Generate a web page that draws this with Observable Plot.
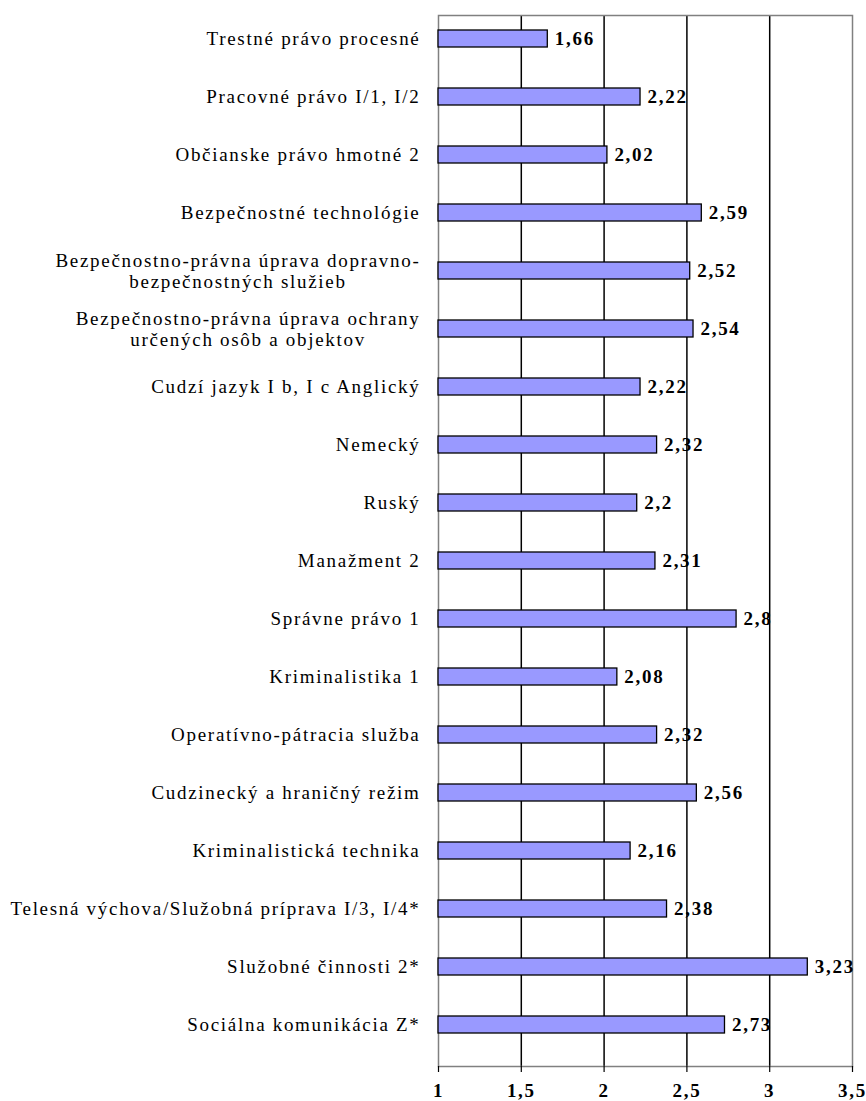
<!DOCTYPE html>
<html>
<head>
<meta charset="utf-8">
<script src="https://cdn.jsdelivr.net/npm/d3@7"></script>
<script src="https://cdn.jsdelivr.net/npm/@observablehq/plot@0.6"></script>
<style>
  html, body { margin: 0; padding: 0; background: #fff; }
  svg text { letter-spacing: 1.7px; }
</style>
</head>
<body>
<div id="chart"></div>
<script>
const categories = [
  "Trestné právo procesné",
  "Pracovné právo I/1, I/2",
  "Občianske právo hmotné 2",
  "Bezpečnostné technológie",
  "Bezpečnostno-právna úprava dopravno-\nbezpečnostných služieb",
  "Bezpečnostno-právna úprava ochrany\nurčených osôb a objektov",
  "Cudzí jazyk I b, I c Anglický",
  "Nemecký",
  "Ruský",
  "Manažment 2",
  "Správne právo 1",
  "Kriminalistika 1",
  "Operatívno-pátracia služba",
  "Cudzinecký a hraničný režim",
  "Kriminalistická technika",
  "Telesná výchova/Služobná príprava I/3, I/4*",
  "Služobné činnosti 2*",
  "Sociálna komunikácia Z*"
];
const values = [1.66, 2.22, 2.02, 2.59, 2.52, 2.54, 2.22, 2.32, 2.2, 2.31, 2.8, 2.08, 2.32, 2.56, 2.16, 2.38, 3.23, 2.73];
const xTicks = [1, 1.5, 2, 2.5, 3, 3.5];
const gridValues = [1.5, 2, 2.5, 3];

const data = categories.map((c, i) => ({cat: c, value: values[i]}));
const fmt = d => String(d).replace(".", ",");

const FONT = "'Liberation Serif', 'Times New Roman', serif";
const LSIZE = 19;
const LSP = 1.7;

// measure text width for centering multi-line labels
const ctx = document.createElement("canvas").getContext("2d");
ctx.font = `${LSIZE}px ${FONT}`;
const textW = s => ctx.measureText(s).width + LSP * s.length;

const single = data.filter(d => !d.cat.includes("\n"));
const multi = data.filter(d => d.cat.includes("\n"));

const multiMarks = multi.map(d => {
  const w = Math.max(...d.cat.split("\n").map(textW));
  return Plot.text([d], {
    y: "cat", text: "cat", frameAnchor: "left", textAnchor: "middle",
    dx: -18 - w / 2, lineHeight: 1.1,
    fontFamily: FONT, fontSize: LSIZE, fill: "#000"
  });
});

const chart = Plot.plot({
  width: 866,
  height: 1101,
  marginLeft: 438,
  marginRight: 14,
  marginTop: 15,
  marginBottom: 35,
  style: {fontFamily: FONT, background: "#fff"},
  x: {domain: [1, 3.5], label: null},
  y: {domain: categories, range: [5.8, 1057.9], paddingInner: 0.71, paddingOuter: 0.355, axis: null},
  marks: [
    Plot.ruleX(gridValues, {stroke: "#000", strokeWidth: 1.5}),
    Plot.frame({stroke: "#808080", strokeWidth: 1.5}),
    Plot.axisX({ticks: xTicks, tickFormat: fmt, tickSize: 6, tickPadding: 11, label: null,
      fontSize: 19, fontWeight: "bold", stroke: "#000", strokeWidth: 1.2}),
    Plot.barX(data, {x1: 1, x2: "value", y: "cat", fill: "#9999ff", stroke: "#000", strokeWidth: 1.3}),
    Plot.text(data, {x: "value", y: "cat", text: d => fmt(d.value), dx: 7, textAnchor: "start",
      fontFamily: FONT, fontSize: 19, fontWeight: "bold", fill: "#000"}),
    Plot.text(single, {y: "cat", text: "cat", frameAnchor: "left", textAnchor: "end", dx: -18,
      fontFamily: FONT, fontSize: LSIZE, fill: "#000"}),
    ...multiMarks
  ]
});
document.getElementById("chart").appendChild(chart);
</script>
</body>
</html>
